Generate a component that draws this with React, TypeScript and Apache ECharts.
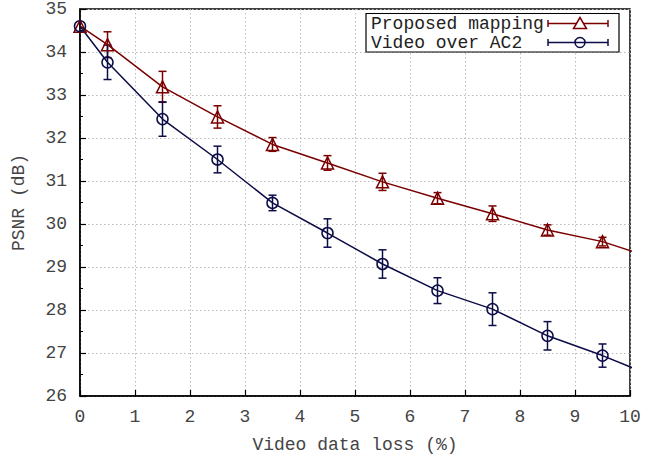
import React, { useEffect, useRef } from "react";
import * as echarts from "echarts";

const xValues = [0, 0.5, 1.5, 2.5, 3.5, 4.5, 5.5, 6.5, 7.5, 8.5, 9.5, 10.5];
const proposedPsnr = [34.6, 34.17, 33.19, 32.49, 31.85, 31.42, 30.98, 30.6, 30.24, 29.86, 29.59, 29.17];
const proposedErr = [0, 0.3, 0.36, 0.26, 0.16, 0.17, 0.2, 0.13, 0.18, 0.12, 0.1, 0];
const videoPsnr = [34.6, 33.76, 32.44, 31.5, 30.49, 29.79, 29.07, 28.45, 28.02, 27.4, 26.94, 26.42];
const videoErr = [0, 0.4, 0.4, 0.31, 0.18, 0.33, 0.33, 0.3, 0.38, 0.33, 0.27, 0];
const seriesNames = ["Proposed mapping", "Video over AC2"];

const RED = "#7a0000";
const BLUE = "#0c0c48";
const FONT = "'Liberation Mono', 'DejaVu Sans Mono', monospace";

function errorSeries(vals: number[], errs: number[], color: string) {
  return {
    type: "custom",
    clip: true,
    z: 3,
    encode: { x: 0, y: [1, 2] },
    data: xValues.map((x, i) => [x, vals[i] - errs[i], vals[i] + errs[i]]),
    renderItem: (params: any, api: any) => {
      if (api.value(2) - api.value(1) <= 0) return null;
      const x = api.value(0);
      const lo = api.coord([x, api.value(1)]);
      const hi = api.coord([x, api.value(2)]);
      const c = 4;
      const st = { stroke: color, lineWidth: 1.5 };
      return {
        type: "group",
        children: [
          { type: "line", shape: { x1: lo[0], y1: lo[1], x2: hi[0], y2: hi[1] }, style: st },
          { type: "line", shape: { x1: lo[0] - c, y1: lo[1], x2: lo[0] + c, y2: lo[1] }, style: st },
          { type: "line", shape: { x1: hi[0] - c, y1: hi[1], x2: hi[0] + c, y2: hi[1] }, style: st },
        ],
      };
    },
  };
}

export default function App() {
  const ref = useRef<HTMLDivElement>(null);
  useEffect(() => {
    if (!ref.current) return;
    const chart = echarts.init(ref.current, undefined, { renderer: "svg" });
    const legendY1 = 23.5;
    const legendY2 = 42.5;
    const lx1 = 548;
    const lx2 = 608;
    const sx = 580;
    chart.setOption({
      animation: false,
      backgroundColor: "#fff",
      grid: {
        left: 80,
        right: 16,
        top: 9,
        bottom: 60,
        containLabel: false,
        outerBoundsMode: "none",
        show: true,
        borderColor: "#000",
        borderWidth: 1.5,
        backgroundColor: "transparent",
      },
      xAxis: {
        type: "value",
        min: 0,
        max: 10,
        interval: 1,
        name: "Video data loss (%)",
        nameLocation: "middle",
        nameGap: 40,
        nameTextStyle: { fontFamily: FONT, fontSize: 18, color: "#444" },
        axisLine: { lineStyle: { color: "#000", width: 1.5 } },
        axisTick: { inside: true, length: 6, lineStyle: { color: "#000", width: 1.2 } },
        axisLabel: { fontFamily: FONT, fontSize: 18, color: "#444", margin: 12 },
        splitLine: { show: true, lineStyle: { color: "#bbbbbb", type: [1.5, 2.5], width: 1 } },
      },
      yAxis: {
        type: "value",
        min: 26,
        max: 35,
        interval: 1,
        name: "PSNR (dB)",
        nameLocation: "middle",
        nameGap: 52,
        nameTextStyle: { fontFamily: FONT, fontSize: 18, color: "#444" },
        axisLine: { lineStyle: { color: "#000", width: 1.5 } },
        axisTick: { inside: true, length: 6, lineStyle: { color: "#000", width: 1.2 } },
        minorTick: { show: true, splitNumber: 2, length: 3, lineStyle: { color: "#000", width: 1 } },
        axisLabel: { fontFamily: FONT, fontSize: 18, color: "#444", margin: 13 },
        splitLine: { show: true, lineStyle: { color: "#bbbbbb", type: [1.5, 2.5], width: 1 } },
      },
      series: [
        {
          name: seriesNames[0],
          type: "line",
          clip: true,
          z: 4,
          data: xValues.map((x, i) => [x, proposedPsnr[i]]),
          symbol: "triangle",
          symbolSize: 12,
          showAllSymbol: true,
          lineStyle: { color: RED, width: 1.5 },
          itemStyle: { color: "rgba(0,0,0,0)", borderColor: RED, borderWidth: 1.5 },
        },
        {
          name: seriesNames[1],
          type: "line",
          clip: true,
          z: 4,
          data: xValues.map((x, i) => [x, videoPsnr[i]]),
          symbol: "circle",
          symbolSize: 11,
          showAllSymbol: true,
          lineStyle: { color: BLUE, width: 1.5 },
          itemStyle: { color: "rgba(0,0,0,0)", borderColor: BLUE, borderWidth: 1.5 },
        },
        errorSeries(proposedPsnr, proposedErr, RED),
        errorSeries(videoPsnr, videoErr, BLUE),
      ],
      graphic: [
        {
          type: "rect",
          z: 100,
          shape: { x: 366, y: 13.5, width: 253, height: 38.5 },
          style: { fill: "#fff", stroke: "#000", lineWidth: 1.2 },
        },
        {
          type: "text",
          z: 101,
          x: 371,
          y: legendY1,
          style: { text: seriesNames[0], fontFamily: FONT, fontSize: 18, fill: "#222", verticalAlign: "middle" },
        },
        {
          type: "text",
          z: 101,
          x: 371,
          y: legendY2,
          style: { text: seriesNames[1], fontFamily: FONT, fontSize: 18, fill: "#222", verticalAlign: "middle" },
        },
        { type: "line", z: 101, shape: { x1: lx1, y1: legendY1, x2: lx2, y2: legendY1 }, style: { stroke: RED, lineWidth: 1.5 } },
        { type: "line", z: 101, shape: { x1: lx1, y1: legendY1 - 3.5, x2: lx1, y2: legendY1 + 3.5 }, style: { stroke: RED, lineWidth: 1.5 } },
        { type: "line", z: 101, shape: { x1: lx2, y1: legendY1 - 3.5, x2: lx2, y2: legendY1 + 3.5 }, style: { stroke: RED, lineWidth: 1.5 } },
        {
          type: "polygon",
          z: 102,
          shape: { points: [[sx, legendY1 - 6], [sx - 6.5, legendY1 + 5], [sx + 6.5, legendY1 + 5]] },
          style: { fill: "#fff", stroke: RED, lineWidth: 1.5 },
        },
        { type: "line", z: 101, shape: { x1: lx1, y1: legendY2, x2: lx2, y2: legendY2 }, style: { stroke: BLUE, lineWidth: 1.5 } },
        { type: "line", z: 101, shape: { x1: lx1, y1: legendY2 - 3.5, x2: lx1, y2: legendY2 + 3.5 }, style: { stroke: BLUE, lineWidth: 1.5 } },
        { type: "line", z: 101, shape: { x1: lx2, y1: legendY2 - 3.5, x2: lx2, y2: legendY2 + 3.5 }, style: { stroke: BLUE, lineWidth: 1.5 } },
        {
          type: "circle",
          z: 102,
          shape: { cx: sx, cy: legendY2, r: 5 },
          style: { fill: "rgba(0,0,0,0)", stroke: BLUE, lineWidth: 1.5 },
        },
      ],
    });
    return () => chart.dispose();
  }, []);
  return (
    <div
      ref={ref}
      style={{ position: "fixed", left: 0, top: 0, width: 646, height: 456, background: "#fff" }}
    />
  );
}
